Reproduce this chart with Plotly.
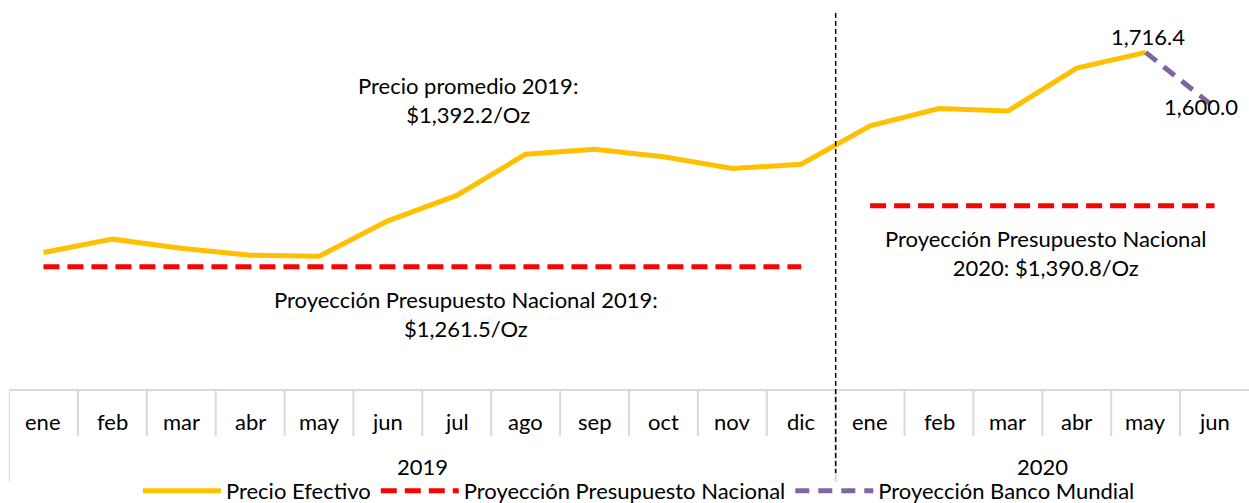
import plotly.graph_objects as go

months = ["ene", "feb", "mar", "abr", "may", "jun", "jul", "ago", "sep", "oct", "nov", "dic",
          "ene", "feb", "mar", "abr", "may", "jun"]
years = ["2019", "2020"]
year_counts = [12, 6]

precio_efectivo = [1291.8, 1320.1, 1300.9, 1285.9, 1283.7, 1359.0, 1412.9, 1500.4, 1510.6,
                   1494.8, 1470.0, 1479.1, 1560.7, 1597.1, 1591.9, 1683.2, 1716.4]
proy_banco_mundial = [1716.4, 1600.0]
proy_presupuesto_2019 = 1261.5
proy_presupuesto_2020 = 1390.8
promedio_2019 = 1392.2

FONT = "Lato"
FS = 22
x_all = list(range(len(months)))

fig = go.Figure()

fig.add_trace(go.Scatter(
    x=x_all[:len(precio_efectivo)], y=precio_efectivo, mode="lines",
    name="Precio Efectivo", line=dict(color="#FFC000", width=5),
    hoverinfo="skip"))

fig.add_trace(go.Scatter(
    x=x_all[:12], y=[proy_presupuesto_2019] * 12, mode="lines",
    name="Proyección Presupuesto Nacional",
    line=dict(color="#FF0000", width=5, dash="16px,8px"), legendgroup="pn"))
fig.add_trace(go.Scatter(
    x=x_all[12:], y=[proy_presupuesto_2020] * 6, mode="lines",
    name="Proyección Presupuesto Nacional", showlegend=False,
    line=dict(color="#FF0000", width=5, dash="16px,8px"), legendgroup="pn"))

fig.add_trace(go.Scatter(
    x=x_all[16:18], y=proy_banco_mundial, mode="lines",
    name="Proyección Banco Mundial",
    line=dict(color="#8064A2", width=5, dash="14px,9px")))

H_PLOT = 377.0
def py(p):
    # pixel row -> paper coordinate (plot bottom at pixel 390)
    return (390 - p) / H_PLOT

shapes = []
gray = "#D9D9D9"
shapes.append(dict(type="line", xref="paper", yref="paper", x0=0, x1=1, y0=py(390), y1=py(390),
                   line=dict(color=gray, width=2)))
for i in range(len(months)):
    bottom = 482 if i in (0, 12) else 436
    shapes.append(dict(type="line", xref="x", yref="paper", x0=i - 0.5, x1=i - 0.5,
                       y0=py(390), y1=py(bottom), line=dict(color=gray, width=2)))
shapes.append(dict(type="line", xref="x", yref="paper", x0=11.5, x1=11.5,
                   y0=1.0, y1=py(473), line=dict(color="black", width=1.5, dash="5px,3px")))

def txt(**kw):
    base = dict(showarrow=False, xanchor="center", yanchor="middle", align="center",
                font=dict(size=FS, family=FONT, color="#000000"))
    base.update(kw)
    return base

annotations = []
for i, m in enumerate(months):
    annotations.append(txt(x=i, y=py(421), xref="x", yref="paper", text=m))
start = 0
for yr, n in zip(years, year_counts):
    annotations.append(txt(x=start + (n - 1) / 2, y=py(466), xref="x", yref="paper", text=yr))
    start += n

annotations.append(txt(x=6.17, y=py(100), xref="x", yref="paper",
                       text=f"Precio promedio 2019:<br>${promedio_2019:,.1f}/Oz"))
annotations.append(txt(x=6.14, y=py(314), xref="x", yref="paper",
                       text=f"Proyección Presupuesto Nacional 2019:<br>${proy_presupuesto_2019:,.1f}/Oz"))
annotations.append(txt(x=14.55, y=py(253), xref="x", yref="paper",
                       text=f"Proyección Presupuesto Nacional<br>2020: ${proy_presupuesto_2020:,.1f}/Oz"))
annotations.append(txt(x=16, y=precio_efectivo[-1], xref="x", yref="y",
                       text=f"{precio_efectivo[-1]:,.1f}", yshift=16, xshift=2))
annotations.append(txt(x=17, y=proy_banco_mundial[-1], xref="x", yref="y",
                       text=f"{proy_banco_mundial[-1]:,.1f}", yshift=1, xshift=-14))

fig.update_layout(
    width=1249, height=503,
    margin=dict(l=9, r=0, t=13, b=113, autoexpand=False),
    paper_bgcolor="white", plot_bgcolor="white",
    xaxis=dict(range=[-0.5, 17.5], showticklabels=False, showgrid=False, zeroline=False,
               showline=False, fixedrange=True),
    yaxis=dict(range=[1000, 1800], showticklabels=False, showgrid=False, zeroline=False,
               showline=False, fixedrange=True),
    showlegend=True,
    legend=dict(orientation="h", x=0.508, xanchor="center",
                yref="container", y=(503 - 491) / 503, yanchor="middle",
                font=dict(size=FS, family=FONT, color="#000"), itemwidth=78,
                bgcolor="rgba(0,0,0,0)", traceorder="normal"),
    shapes=shapes, annotations=annotations,
    font=dict(family=FONT),
)

fig.write_html("out.html", config={"displayModeBar": False},
               post_script="document.body.style.margin='0';")
